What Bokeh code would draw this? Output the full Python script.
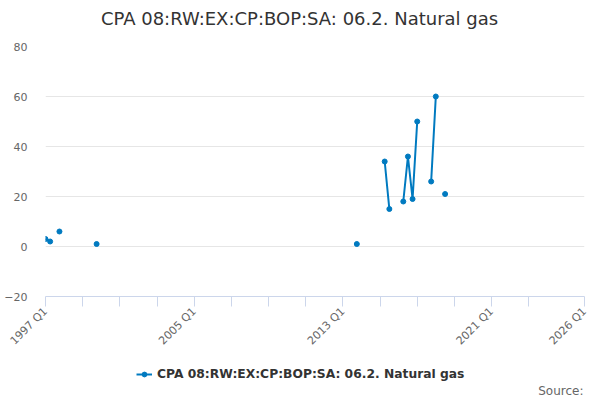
import math
import numpy as np
from bokeh.plotting import figure
from bokeh.layouts import column
from bokeh.models import (FixedTicker, Label, Legend, LegendItem)
from bokeh.embed import file_html
from bokeh.resources import INLINE

# ---- data ----
title_text = "CPA 08:RW:EX:CP:BOP:SA: 06.2. Natural gas"
series_name = "CPA 08:RW:EX:CP:BOP:SA: 06.2. Natural gas"
quarters = ["1997 Q1", "1997 Q2", "1997 Q4", "1999 Q4", "2013 Q4",
            "2015 Q2", "2015 Q3", "2016 Q2", "2016 Q3", "2016 Q4",
            "2017 Q1", "2017 Q4", "2018 Q1", "2018 Q3"]
values = [3, 2, 6, 1, 1, 34, 15, 18, 36, 19, 50, 26, 60, 21]
x_tick_labels = ["1997 Q1", "2005 Q1", "2013 Q1", "2021 Q1", "2026 Q1"]
y_ticks = [-20, 0, 20, 40, 60, 80]
start_year = 1997
end_label = "2026 Q1"


def q_index(label):
    y, q = label.split(" Q")
    return (int(y) - start_year) * 4 + int(q) - 1


xs = [q_index(q) for q in quarters]
x_end = q_index(end_label)

# line with gaps where quarters are missing
lx, ly = [], []
for i, (xv, yv) in enumerate(zip(xs, values)):
    if i > 0 and xv - xs[i - 1] > 1:
        lx.append(np.nan)
        ly.append(np.nan)
    lx.append(xv)
    ly.append(yv)

color = "#007ac0"
W = 600
H0 = 36           # title strip
H1 = 355 - H0     # main chart
H2 = 45           # legend strip
FL, FR = 45, 16
FT = 46 - H0
FB = 355 - 297


def strip(height):
    f = figure(width=W, height=height, output_backend="svg", toolbar_location=None,
               x_axis_type=None, y_axis_type=None, min_border=0)
    f.grid.visible = False
    f.outline_line_color = None
    f.background_fill_color = "white"
    f.border_fill_color = "white"
    return f


# ---- title strip (its frame is aligned with the main chart's frame) ----
t = strip(H0)
t.x_range.start, t.x_range.end = 0, 1
t.y_range.start, t.y_range.end = 0, 1
t.add_layout(Label(x=299 - FL, y=H0 - 18, x_units="screen", y_units="screen",
                   text=title_text, text_align="center", text_baseline="middle",
                   text_font="DejaVu Sans", text_font_size="18px",
                   text_color="#333333"))

# ---- main chart ----
p = figure(width=W, height=H1, output_backend="svg", toolbar_location=None,
           x_range=(0, x_end), y_range=(-20, 80),
           min_border_left=FL, min_border_right=FR, min_border_top=FT,
           min_border_bottom=FB)
p.outline_line_color = None
p.background_fill_color = "white"
p.border_fill_color = "white"

p.line(lx, ly, line_color=color, line_width=2)
p.scatter(xs, values, size=5, fill_color=color, line_color=color)

minor = list(range(0, 108, 8)) + [x_end]
p.xaxis.ticker = FixedTicker(ticks=minor)
overrides = {tk: "" for tk in minor}
for lab in x_tick_labels:
    overrides[q_index(lab)] = lab
p.xaxis.major_label_overrides = overrides
p.xaxis.major_label_orientation = math.pi / 4
p.xaxis.axis_line_color = "#ccd6eb"
p.xaxis.major_tick_line_color = "#ccd6eb"
p.xaxis.major_tick_out = 10
p.xaxis.major_tick_in = 0
p.xaxis.minor_tick_line_color = None
p.xaxis.major_label_text_color = "#666666"
p.xaxis.major_label_text_font = "DejaVu Sans"
p.xaxis.major_label_text_font_size = "11px"
p.xaxis.major_label_standoff = 3
p.xgrid.grid_line_color = None

p.yaxis.ticker = FixedTicker(ticks=y_ticks)
p.yaxis.axis_line_color = None
p.yaxis.major_tick_line_color = None
p.yaxis.minor_tick_line_color = None
p.yaxis.major_tick_out = 0
p.yaxis.major_tick_in = 0
p.yaxis.minor_tick_out = 0
p.yaxis.minor_tick_in = 0
p.yaxis.major_label_text_color = "#666666"
p.yaxis.major_label_text_font = "DejaVu Sans"
p.yaxis.major_label_text_font_size = "11px"
p.yaxis.major_label_standoff = 18
p.ygrid.grid_line_color = "#e6e6e6"

# ---- legend strip ----
# same series drawn again, outside this strip's visible y range, only so the
# legend can show its line-and-marker symbol
q = strip(H2)
q.x_range.start, q.x_range.end = 0, x_end
q.y_range.start, q.y_range.end = 1000, 1001
leg_line = q.line(lx, ly, line_color=color, line_width=2)
leg_pt = q.scatter(xs, values, size=4, fill_color=color, line_color=color)

legend = Legend(items=[LegendItem(label=series_name, renderers=[leg_line, leg_pt])],
                location=(136 - FL, 18), orientation="horizontal",
                label_text_font="DejaVu Sans", label_text_font_size="12.3px",
                label_text_font_style="bold", label_text_color="#333333",
                glyph_width=16, glyph_height=12, label_standoff=5,
                border_line_color=None, background_fill_alpha=0,
                padding=0, margin=0, label_height=16)
q.add_layout(legend, "center")

q.add_layout(Label(x=W - FR - FL - 1, y=10, x_units="screen", y_units="screen",
                   text="Source:", text_align="right", text_baseline="middle",
                   text_font="DejaVu Sans", text_font_size="12px",
                   text_color="#666666"))

layout = column(t, p, q, spacing=0)
open("out.html", "w").write(file_html(layout, INLINE))
